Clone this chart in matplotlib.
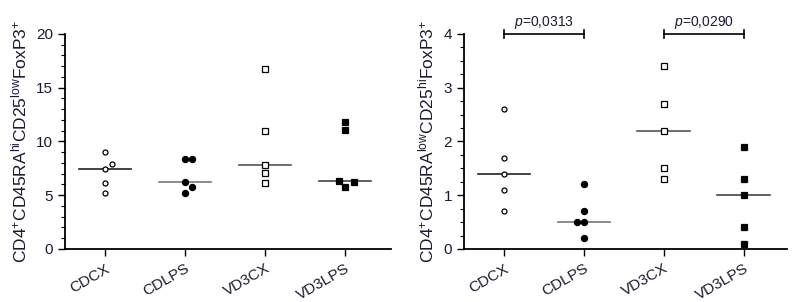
import matplotlib.pyplot as plt
import numpy as np
from matplotlib.ticker import MultipleLocator

plt.rcParams['font.family'] = ['Liberation Sans', 'DejaVu Sans']
plt.rcParams['mathtext.fontset'] = 'custom'
plt.rcParams['mathtext.rm'] = 'Liberation Sans'
plt.rcParams['mathtext.it'] = 'Liberation Sans:italic'

# groups
groups = ["CDCX", "CDLPS", "VD3CX", "VD3LPS"]

# left panel: CD4+CD45RAhiCD25lowFoxP3+
cdcx_a = [9.0, 7.9, 7.4, 6.1, 5.2]
cdlps_a = [8.4, 8.4, 6.2, 5.8, 5.2]
vd3cx_a = [16.7, 11.0, 7.8, 7.1, 6.1]
vd3lps_a = [11.8, 11.1, 6.3, 5.8, 6.2]
med_a = [7.4, 6.2, 7.8, 6.3]

# right panel: CD4+CD45RAlowCD25hiFoxP3+
cdcx_b = [2.6, 1.7, 1.4, 1.1, 0.7]
cdlps_b = [1.2, 0.7, 0.5, 0.5, 0.2]
vd3cx_b = [3.4, 2.7, 2.2, 1.5, 1.3]
vd3lps_b = [1.9, 1.3, 1.0, 0.4, 0.1]
med_b = [1.4, 0.5, 2.2, 1.0]

# small horizontal offsets for overlapping points (in category units)
jit_a = [[0, 0.09, 0, 0, 0], [0, 0.09, 0, 0.09, 0], [0, 0, 0, 0, 0], [0, 0, -0.07, 0, 0.11]]
jit_b = [[0, 0, 0, 0, 0], [0, 0, -0.09, 0, 0], [0, 0, 0, 0, 0], [0, 0, 0, 0, 0]]

pvals = ["0,0313", "0,0290"]
pairs = [(0, 1), (2, 3)]

styles = [dict(marker='o', mfc='white', ms=3.6, mew=0.9),
          dict(marker='o', mfc='black', ms=4.4, mew=0.9),
          dict(marker='s', mfc='white', ms=4.3, mew=0.9),
          dict(marker='s', mfc='black', ms=5.0, mew=0.9)]
med_colors = ['#222222', '#777777', '#555555', '#444444']
txt = '#1a1a33'

fig = plt.figure(figsize=(8.09, 3.02), dpi=100)
ax1 = fig.add_axes([0.0803, 0.1755, 0.403, 0.712])
ax2 = fig.add_axes([0.5735, 0.1755, 0.3993, 0.712])


def draw(ax, data, jit, med, ymax, major, minor, xr, ylabel):
    x = np.arange(len(groups))
    for i, vals in enumerate(data):
        xs = x[i] + np.array(jit[i])
        ax.plot(xs, vals, linestyle='none', mec='black', **styles[i])
        ax.plot([x[i] - 0.33, x[i] + 0.33], [med[i], med[i]], color=med_colors[i], lw=1.2, zorder=1)
    ax.set_xlim(-0.5, xr)
    ax.set_ylim(0, ymax)
    ax.yaxis.set_major_locator(MultipleLocator(major))
    ax.yaxis.set_minor_locator(MultipleLocator(minor))
    ax.set_xticks(x)
    ax.set_xticklabels(groups, rotation=30, ha='right', va='top', rotation_mode='anchor',
                       fontsize=11, color=txt)
    ax.tick_params(axis='y', labelsize=11, labelcolor=txt, length=5, width=1)
    ax.tick_params(axis='y', which='minor', length=3, width=0.8)
    ax.tick_params(axis='x', length=5, width=1, pad=4)
    for s in ['top', 'right']:
        ax.spines[s].set_visible(False)
    for s in ['left', 'bottom']:
        ax.spines[s].set_linewidth(1.3)
    ax.set_ylabel(ylabel, fontsize=12.5, color=txt, labelpad=5)


draw(ax1, [cdcx_a, cdlps_a, vd3cx_a, vd3lps_a], jit_a, med_a, 20, 5, 1, 3.575,
     r"CD4$^{\mathrm{+}}$CD45RA$^{\mathrm{hi}}$CD25$^{\mathrm{low}}$FoxP3$^{\mathrm{+}}$")
draw(ax2, [cdcx_b, cdlps_b, vd3cx_b, vd3lps_b], jit_b, med_b, 4, 1, 0.25, 3.54,
     r"CD4$^{\mathrm{+}}$CD45RA$^{\mathrm{low}}$CD25$^{\mathrm{hi}}$FoxP3$^{\mathrm{+}}$")

# significance brackets
for (a, b), p in zip(pairs, pvals):
    ax2.plot([a, b], [4, 4], color='black', lw=1.2, clip_on=False)
    for xx in (a, b):
        ax2.plot([xx, xx], [3.93, 4.07], color='black', lw=1.2, clip_on=False)
    ax2.text((a + b) / 2, 4.05, r"$p$=" + p, ha='center', va='bottom', fontsize=10, color=txt)

fig.savefig("out.png", dpi=100)
